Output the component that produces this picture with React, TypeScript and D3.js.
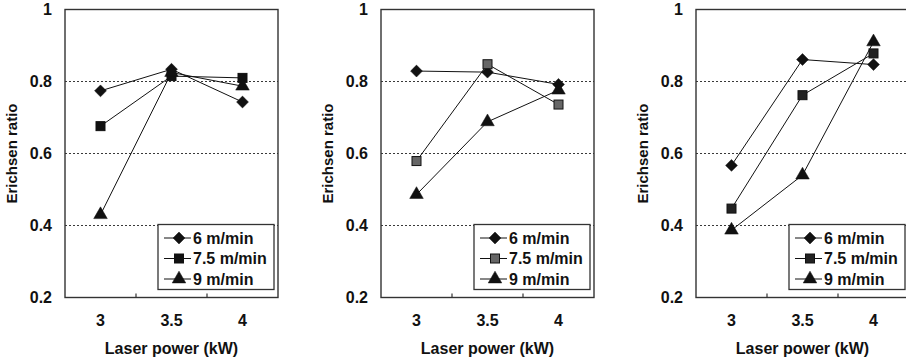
import React from "react";
import * as d3 from "d3";

const powers = [3, 3.5, 4];
const seriesNames = ["6 m/min", "7.5 m/min", "9 m/min"];
const yTicks = [0.2, 0.4, 0.6, 0.8, 1];
const xTicks = [3, 3.5, 4];
const gridValues = [0.4, 0.6, 0.8];

const panelA6 = [0.774, 0.834, 0.743];
const panelA75 = [0.676, 0.815, 0.81];
const panelA9 = [0.43, 0.825, 0.787];

const panelB6 = [0.829, 0.826, 0.792];
const panelB75 = [0.579, 0.848, 0.736];
const panelB9 = [0.486, 0.688, 0.776];

const panelC6 = [0.567, 0.861, 0.847];
const panelC75 = [0.447, 0.762, 0.878];
const panelC9 = [0.387, 0.54, 0.91];

const panels = [
  { left: 65, series: [panelA6, panelA75, panelA9], squareFill: "#111" },
  { left: 381, series: [panelB6, panelB75, panelB9], squareFill: "#666" },
  { left: 696, series: [panelC6, panelC75, panelC9], squareFill: "#222" },
];

const W = 213;
const TOP = 9.5;
const BOTTOM = 297.5;
const FONT = "'Liberation Sans', Arial, sans-serif";

function Marker({ kind, x, y, fill }: { kind: number; x: number; y: number; fill: string }) {
  if (kind === 0) {
    const s = d3.symbol().type(d3.symbolDiamond2).size(90)();
    return <path d={s || ""} transform={`translate(${x},${y})`} fill="#111" stroke="#111" strokeWidth={0.5} />;
  }
  if (kind === 1) {
    return <rect x={x - 4.5} y={y - 4.5} width={9} height={9} fill={fill} stroke="#111" strokeWidth={1} />;
  }
  const t = d3.symbol().type(d3.symbolTriangle).size(80)();
  return <path d={t || ""} transform={`translate(${x},${y})`} fill="#111" stroke="#111" strokeWidth={0.5} />;
}

function Panel({ left, series, squareFill }: { left: number; series: number[][]; squareFill: string }) {
  const x = d3.scaleLinear().domain([2.75, 4.25]).range([left, left + W]);
  const y = d3.scaleLinear().domain([0.2, 1]).range([BOTTOM, TOP]);
  const line = d3
    .line<number>()
    .x((_, i) => x(powers[i]))
    .y((d) => y(d));
  const legX = left + W - 120;
  const legY = 224.5;
  return (
    <g>
      {gridValues.map((g) => (
        <line key={g} x1={left} x2={left + W} y1={y(g)} y2={y(g)} stroke="#222" strokeWidth={0.9} strokeDasharray="2,2" />
      ))}
      <rect x={left} y={TOP} width={W} height={BOTTOM - TOP} fill="none" stroke="#333" strokeWidth={1.4} />
      {[3.25, 3.75].map((t) => (
        <line key={t} x1={x(t)} x2={x(t)} y1={BOTTOM} y2={BOTTOM - 4} stroke="#333" strokeWidth={1.2} />
      ))}
      {yTicks.map((t) => (
        <text key={t} x={left - 13} y={y(t)} dy="0.35em" textAnchor="end" fontFamily={FONT} fontWeight="bold" fontSize={16} fill="#111">
          {String(t)}
        </text>
      ))}
      {xTicks.map((t) => (
        <text key={t} x={x(t)} y={320} dy="0.35em" textAnchor="middle" fontFamily={FONT} fontWeight="bold" fontSize={16} fill="#111">
          {String(t)}
        </text>
      ))}
      <text x={x(3.5)} y={348} dy="0.35em" textAnchor="middle" fontFamily={FONT} fontWeight="bold" fontSize={16} fill="#111">
        Laser power (kW)
      </text>
      <text
        transform={`translate(${left - 53},${y(0.6)}) rotate(-90)`}
        textAnchor="middle"
        dy="0.35em"
        fontFamily={FONT}
        fontWeight="bold"
        fontSize={15}
        fill="#111"
      >
        Erichsen ratio
      </text>
      {series.map((s, si) => (
        <path key={si} d={line(s) || ""} fill="none" stroke="#111" strokeWidth={1} />
      ))}
      {series.map((s, si) =>
        s.map((v, i) => <Marker key={`${si}-${i}`} kind={si} x={x(powers[i])} y={y(v)} fill={squareFill} />)
      )}
      <rect x={legX} y={legY} width={116} height={65} fill="#fff" stroke="#333" strokeWidth={1.3} />
      {seriesNames.map((n, i) => {
        const cy = legY + 13.5 + i * 20.5;
        return (
          <g key={n}>
            <line x1={legX + 6} x2={legX + 33} y1={cy} y2={cy} stroke="#111" strokeWidth={1} />
            <Marker kind={i} x={legX + 21} y={cy} fill={squareFill} />
            <text x={legX + 35} y={cy} dy="0.35em" fontFamily={FONT} fontWeight="bold" fontSize={16} fill="#111">
              {n}
            </text>
          </g>
        );
      })}
    </g>
  );
}

export default function App() {
  return (
    <svg width={906} height={361} style={{ position: "absolute", left: 0, top: 0, background: "#fff" }}>
      <rect width={906} height={361} fill="#fff" />
      {panels.map((p, i) => (
        <Panel key={i} left={p.left} series={p.series} squareFill={p.squareFill} />
      ))}
    </svg>
  );
}
